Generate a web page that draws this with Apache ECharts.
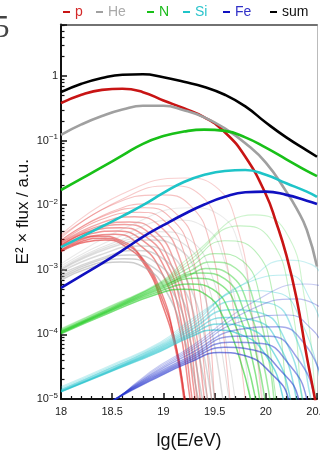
<!DOCTYPE html>
<html>
<head>
<meta charset="utf-8">
<script src="https://cdn.jsdelivr.net/npm/echarts@6/dist/echarts.min.js"></script>
<style>
  html, body { margin: 0; padding: 0; background: #fff; }
  #chart { width: 320px; height: 451px; }
</style>
</head>
<body>
<div id="chart"></div>
<script>
// Energy axis (lg(E/eV)) and flux axis decades
const xMin = 18, xMax = 20.5, xStep = 0.5;
const yDecades = [-5, -4, -3, -2, -1, 0];
const yTopLg = 0.797;

// Best-fit spectra, [lg(E/eV), lg(E^2 flux)]
const sumLg = [[18.0,-0.25],[18.2,-0.12],[18.4,-0.03],[18.6,0.02],[18.8,0.026],[19.0,-0.02],[19.2,-0.09],[19.4,-0.17],[19.6,-0.29],[19.8,-0.47],[20.0,-0.72],[20.2,-0.95],[20.4,-1.15],[20.5,-1.25]];
const pLg = [[18.0,-0.42],[18.2,-0.29],[18.4,-0.215],[18.6,-0.197],[18.8,-0.25],[19.0,-0.38],[19.2,-0.50],[19.4,-0.64],[19.6,-0.87],[19.8,-1.25],[20.0,-1.83],[20.1,-2.26],[20.2,-2.77],[20.3,-3.44],[20.4,-4.34],[20.48,-5.0],[20.5,-5.2]];
const heLg = [[18.0,-0.91],[18.2,-0.75],[18.4,-0.62],[18.6,-0.52],[18.8,-0.46],[19.0,-0.46],[19.2,-0.53],[19.4,-0.64],[19.6,-0.81],[19.8,-1.04],[20.0,-1.34],[20.2,-1.79],[20.3,-2.05],[20.4,-2.38],[20.5,-2.95]];
const nLg = [[18.0,-1.765],[18.2,-1.59],[18.4,-1.41],[18.6,-1.23],[18.8,-1.05],[19.0,-0.93],[19.2,-0.86],[19.4,-0.83],[19.6,-0.85],[19.8,-0.95],[20.0,-1.11],[20.2,-1.29],[20.4,-1.47],[20.5,-1.55]];
const siLg = [[18.0,-2.65],[18.2,-2.49],[18.4,-2.33],[18.6,-2.17],[18.8,-2.0],[19.0,-1.81],[19.2,-1.64],[19.4,-1.53],[19.6,-1.47],[19.8,-1.455],[20.0,-1.53],[20.2,-1.66],[20.4,-1.79],[20.5,-1.87]];
const feLg = [[18.0,-3.28],[18.2,-3.09],[18.4,-2.90],[18.6,-2.70],[18.8,-2.49],[19.0,-2.31],[19.2,-2.14],[19.4,-1.99],[19.6,-1.87],[19.8,-1.80],[20.0,-1.79],[20.2,-1.84],[20.4,-1.93],[20.5,-1.98]];

// Spread of alternative fits per element, from lowest to highest cutoff
const pBundleLg = [
  [[18.00,-2.72],[18.24,-2.57],[18.43,-2.54],[18.62,-2.63],[18.82,-2.93],[18.99,-3.54],[19.12,-4.24],[19.20,-5.0],[19.22,-5.3]],
  [[18.00,-2.70],[18.22,-2.55],[18.40,-2.51],[18.60,-2.58],[18.80,-2.85],[18.98,-3.42],[19.12,-4.15],[19.21,-5.0],[19.23,-5.3]],
  [[18.00,-2.69],[18.19,-2.54],[18.38,-2.48],[18.58,-2.54],[18.77,-2.77],[18.97,-3.31],[19.11,-4.09],[19.21,-5.0],[19.23,-5.3]],
  [[18.00,-2.66],[18.28,-2.48],[18.53,-2.45],[18.77,-2.62],[18.97,-3.00],[19.14,-3.78],[19.26,-5.0],[19.28,-5.3]],
  [[18.00,-2.65],[18.30,-2.44],[18.55,-2.40],[18.80,-2.55],[19.00,-2.93],[19.16,-3.70],[19.28,-5.0],[19.30,-5.3]],
  [[18.00,-2.63],[18.28,-2.41],[18.58,-2.35],[18.82,-2.48],[19.02,-2.85],[19.18,-3.62],[19.31,-5.0],[19.33,-5.3]],
  [[18.00,-2.62],[18.33,-2.37],[18.62,-2.30],[18.87,-2.44],[19.06,-2.86],[19.22,-3.70],[19.33,-5.0],[19.35,-5.3]],
  [[18.00,-2.60],[18.38,-2.32],[18.67,-2.26],[18.92,-2.41],[19.11,-2.88],[19.26,-3.78],[19.36,-5.0],[19.38,-5.3]],
  [[18.00,-2.58],[18.40,-2.27],[18.72,-2.18],[18.97,-2.33],[19.16,-2.82],[19.30,-3.78],[19.40,-5.0],[19.42,-5.3]],
  [[18.00,-2.57],[18.38,-2.23],[18.77,-2.11],[19.02,-2.26],[19.21,-2.77],[19.34,-3.78],[19.43,-5.0],[19.45,-5.3]],
  [[18.00,-2.55],[18.43,-2.16],[18.82,-2.04],[19.06,-2.18],[19.26,-2.70],[19.39,-3.78],[19.47,-5.0],[19.49,-5.3]],
  [[18.00,-2.54],[18.48,-2.11],[18.87,-1.98],[19.11,-2.11],[19.31,-2.62],[19.44,-3.78],[19.50,-5.0],[19.52,-5.3]],
  [[18.00,-2.51],[18.48,-2.01],[18.97,-1.84],[19.26,-2.00],[19.46,-2.62],[19.57,-3.78],[19.65,-5.0],[19.67,-5.3]],
  [[18.00,-2.48],[18.58,-1.92],[19.06,-1.70],[19.36,-1.84],[19.55,-2.46],[19.70,-3.78],[19.80,-5.0],[19.82,-5.3]],
  [[18.00,-2.46],[18.58,-1.84],[19.21,-1.58],[19.50,-1.70],[19.73,-2.38],[19.87,-3.78],[19.96,-5.0],[19.98,-5.3]]
];
const heBundleLg = [
  [[18.00,-3.16],[18.28,-2.97],[18.58,-2.88],[18.82,-2.97],[19.02,-3.31],[19.21,-4.09],[19.34,-5.0],[19.36,-5.3]],
  [[18.00,-3.13],[18.33,-2.91],[18.62,-2.83],[18.87,-2.93],[19.08,-3.31],[19.26,-4.09],[19.38,-5.0],[19.40,-5.3]],
  [[18.00,-3.10],[18.38,-2.85],[18.67,-2.77],[18.92,-2.88],[19.14,-3.31],[19.31,-4.09],[19.43,-5.0],[19.45,-5.3]],
  [[18.00,-3.06],[18.43,-2.80],[18.72,-2.70],[18.97,-2.80],[19.19,-3.25],[19.36,-4.09],[19.47,-5.0],[19.49,-5.3]],
  [[18.00,-3.03],[18.38,-2.77],[18.77,-2.63],[19.02,-2.72],[19.24,-3.19],[19.41,-4.09],[19.50,-5.0],[19.52,-5.3]],
  [[18.00,-3.00],[18.48,-2.66],[18.87,-2.54],[19.14,-2.66],[19.34,-3.13],[19.48,-4.01],[19.58,-5.0],[19.60,-5.3]],
  [[18.00,-2.99],[18.48,-2.63],[18.92,-2.48],[19.20,-2.60],[19.40,-3.08],[19.54,-4.01],[19.64,-5.0],[19.66,-5.3]],
  [[18.00,-2.97],[18.48,-2.60],[18.97,-2.41],[19.26,-2.54],[19.46,-3.03],[19.60,-4.01],[19.70,-5.0],[19.72,-5.3]],
  [[18.00,-2.94],[18.58,-2.48],[19.11,-2.23],[19.41,-2.35],[19.60,-2.88],[19.75,-3.93],[19.85,-5.0],[19.87,-5.3]],
  [[18.00,-2.91],[18.67,-2.32],[19.26,-2.04],[19.55,-2.15],[19.75,-2.69],[19.89,-3.93],[19.97,-5.0],[19.99,-5.3]]
];
const nBundleLg = [
  [[18.00,-3.99],[18.48,-3.66],[18.97,-3.36],[19.20,-3.30],[19.41,-3.38],[19.60,-3.78],[19.75,-4.40],[19.85,-5.0],[19.87,-5.3]],
  [[18.00,-3.98],[18.48,-3.64],[18.97,-3.33],[19.26,-3.22],[19.48,-3.30],[19.68,-3.78],[19.81,-4.40],[19.90,-5.0],[19.92,-5.3]],
  [[18.00,-3.97],[18.48,-3.63],[18.97,-3.30],[19.31,-3.13],[19.55,-3.22],[19.75,-3.74],[19.87,-4.40],[19.94,-5.0],[19.96,-5.3]],
  [[18.00,-3.96],[18.48,-3.62],[18.97,-3.28],[19.36,-3.05],[19.60,-3.14],[19.80,-3.70],[19.92,-4.40],[19.99,-5.0],[20.01,-5.3]],
  [[18.00,-3.955],[18.48,-3.61],[18.97,-3.26],[19.26,-3.08],[19.41,-2.98],[19.65,-3.08],[19.85,-3.66],[19.97,-4.40],[20.04,-5.0],[20.06,-5.3]],
  [[18.00,-3.95],[18.48,-3.60],[18.97,-3.24],[19.26,-3.02],[19.46,-2.88],[19.71,-2.98],[19.91,-3.62],[20.03,-4.40],[20.08,-5.0],[20.10,-5.3]],
  [[18.00,-3.94],[18.48,-3.59],[18.97,-3.22],[19.26,-2.96],[19.50,-2.75],[19.77,-2.86],[19.96,-3.55],[20.10,-5.0],[20.12,-5.3]],
  [[18.00,-3.93],[18.48,-3.58],[18.97,-3.21],[19.26,-2.90],[19.60,-2.55],[19.89,-2.70],[20.09,-3.55],[20.21,-5.0],[20.23,-5.3]],
  [[18.00,-3.92],[18.48,-3.57],[18.97,-3.20],[19.26,-2.85],[19.75,-2.32],[20.04,-2.52],[20.24,-3.45],[20.35,-5.0],[20.37,-5.3]],
  [[18.00,-3.91],[18.48,-3.56],[18.97,-3.19],[19.26,-2.80],[19.89,-2.15],[20.19,-2.40],[20.38,-3.45],[20.49,-5.0],[20.51,-5.3]]
];
const siBundleLg = [
  [[18.00,-4.89],[18.48,-4.58],[18.97,-4.26],[19.26,-4.04],[19.50,-3.93],[19.75,-4.00],[19.99,-4.30],[20.17,-5.0],[20.19,-5.3]],
  [[18.00,-4.885],[18.48,-4.57],[18.97,-4.24],[19.26,-4.01],[19.55,-3.84],[19.82,-3.90],[20.06,-4.24],[20.24,-5.0],[20.26,-5.3]],
  [[18.00,-4.88],[18.48,-4.56],[18.97,-4.22],[19.26,-3.98],[19.60,-3.74],[19.90,-3.79],[20.13,-4.16],[20.30,-5.0],[20.32,-5.3]],
  [[18.00,-4.87],[18.48,-4.55],[18.97,-4.20],[19.26,-3.94],[19.65,-3.62],[19.95,-3.67],[20.19,-4.09],[20.36,-5.0],[20.38,-5.3]],
  [[18.00,-4.86],[18.48,-4.53],[18.97,-4.18],[19.26,-3.90],[19.72,-3.48],[20.04,-3.52],[20.28,-4.00],[20.44,-5.0],[20.46,-5.3]],
  [[18.00,-4.85],[18.48,-4.52],[18.97,-4.16],[19.26,-3.86],[19.80,-3.32],[20.12,-3.36],[20.36,-3.85],[20.53,-4.70]],
  [[18.00,-4.83],[18.48,-4.50],[18.97,-4.14],[19.26,-3.82],[19.85,-3.18],[20.22,-3.08],[20.45,-3.50],[20.55,-3.90]],
  [[18.00,-4.81],[18.48,-4.48],[18.97,-4.12],[19.26,-3.78],[19.80,-3.20],[20.20,-2.85],[20.45,-2.92],[20.55,-3.10]]
];
const feBundleLg = [
  [[18.43,-5.09],[18.87,-4.72],[19.26,-4.43],[19.55,-4.28],[19.80,-4.33],[20.05,-4.60],[20.22,-5.0],[20.24,-5.3]],
  [[18.44,-5.09],[18.87,-4.70],[19.26,-4.40],[19.60,-4.20],[19.88,-4.24],[20.14,-4.55],[20.32,-5.0],[20.34,-5.3]],
  [[18.45,-5.08],[18.87,-4.68],[19.26,-4.37],[19.65,-4.12],[19.96,-4.14],[20.22,-4.45],[20.40,-5.0],[20.42,-5.3]],
  [[18.46,-5.08],[18.87,-4.66],[19.26,-4.34],[19.70,-4.03],[20.04,-4.03],[20.30,-4.35],[20.48,-5.0],[20.50,-5.3]],
  [[18.47,-5.08],[18.87,-4.64],[19.26,-4.30],[19.75,-3.92],[20.12,-3.88],[20.38,-4.15],[20.55,-4.70]],
  [[18.48,-5.08],[18.87,-4.62],[19.26,-4.26],[19.80,-3.78],[20.22,-3.70],[20.45,-3.92],[20.55,-4.15]],
  [[18.49,-5.08],[18.87,-4.60],[19.26,-4.23],[19.85,-3.62],[20.30,-3.45],[20.55,-3.60]],
  [[18.50,-5.08],[18.87,-4.58],[19.26,-4.20],[19.90,-3.48],[20.38,-3.22],[20.55,-3.25]]
];

const FONT = '"Liberation Sans", Arial, sans-serif';
const colors = { p: '#c81414', He: '#a0a0a0', N: '#18c018', Si: '#1ec4c8', Fe: '#1010c0', sum: '#000000' };
const legendText = { p: '#d42a2a', He: '#aaaaaa', N: '#1cbc1c', Si: '#2cc4cc', Fe: '#3030c8', sum: '#111111' };
const legendLeft = { p: 63, He: 96, N: 147, Si: 183, Fe: 223, sum: 270 };

const toFlux = arr => arr.map(([x, lg]) => [x, Math.pow(10, lg)]);

// minor tick values on the flux axis (2..9 per decade)
const yMinor = [];
for (let d = -5; d <= 0; d++) for (let m = 2; m <= 9; m++) yMinor.push(m * Math.pow(10, d));

// low-cutoff fits are drawn stronger, high-cutoff fits fade out
function bundle(name, curves, color, hi, lo) {
  const n = curves.length;
  return curves.map((c, i) => ({
    name: name, type: 'line', data: toFlux(c), smooth: 0.5, showSymbol: false, silent: true,
    lineStyle: { color: color, width: i < n * 0.6 ? 1.5 : 1.1, opacity: hi - (hi - lo) * i / (n - 1) },
    z: 2
  }));
}
function main(name, data) {
  return {
    name: name, type: 'line', data: toFlux(data), smooth: 0.5, showSymbol: false, silent: true,
    itemStyle: { color: colors[name] }, lineStyle: { color: colors[name], width: 2.6 }, z: 5
  };
}

const series = [].concat(
  bundle('p band', pBundleLg, '#e02424', 0.6, 0.22),
  bundle('He band', heBundleLg, '#a4a4a4', 0.55, 0.22),
  bundle('N band', nBundleLg, '#22cc22', 0.6, 0.22),
  bundle('Si band', siBundleLg, '#22c2cc', 0.6, 0.25),
  bundle('Fe band', feBundleLg, '#2030cc', 0.6, 0.25),
  [main('p', pLg), main('He', heLg), main('N', nLg), main('Si', siLg), main('Fe', feLg), main('sum', sumLg)]
);

const legends = Object.keys(legendLeft).map(k => ({
  left: legendLeft[k], top: 5, padding: 0, icon: 'rect', itemWidth: 7, itemHeight: 2,
  selectedMode: false,
  data: [{ name: k, textStyle: { color: legendText[k] } }],
  textStyle: { fontSize: 14, fontFamily: FONT }
}));

const supLabel = v => {
  const l = Math.log10(v), e = Math.round(l);
  if (Math.abs(l - e) > 1e-6) return '';
  if (e === 0) return '{b|1}';
  return '{b|10}{s|\u2212' + (-e) + '}';
};

const yRange = { min: Math.pow(10, yDecades[0]), max: Math.pow(10, yTopLg) };

const chart = echarts.init(document.getElementById('chart'), null, { renderer: 'canvas' });
chart.setOption({
  animation: false,
  backgroundColor: '#fff',
  legend: legends,
  grid: { left: 61, right: 3, top: 24.5, bottom: 52, containLabel: false, outerBoundsMode: 'none' },
  graphic: [{
    type: 'text', left: -6, top: 13,
    style: { text: '5', font: '31px "Liberation Serif", "DejaVu Serif", serif', fill: '#444' }
  }],
  xAxis: [{
    type: 'value', min: xMin, max: xMax, interval: xStep, position: 'bottom',
    name: 'lg(E/eV)', nameLocation: 'middle', nameGap: 33, nameMoveOverlap: false,
    nameTextStyle: { fontSize: 18, fontFamily: FONT, color: '#111' },
    axisLine: { show: true, onZero: false, lineStyle: { color: '#111', width: 2 } },
    axisTick: { show: true, inside: true, length: 6, lineStyle: { color: '#111', width: 1.5 } },
    minorTick: { show: true, splitNumber: 5, length: 3, lineStyle: { color: '#111', width: 1.2 } },
    axisLabel: { fontSize: 11, fontFamily: FONT, color: '#222', margin: 7 },
    splitLine: { show: false }, minorSplitLine: { show: false }
  }, {
    type: 'value', min: xMin, max: xMax, position: 'top',
    axisLine: { show: true, onZero: false, lineStyle: { color: '#444', width: 1.5 } },
    axisTick: { show: false }, axisLabel: { show: false }, splitLine: { show: false }
  }],
  yAxis: [{
    type: 'log', logBase: 10, min: yRange.min, max: yRange.max, interval: 1, position: 'left',
    name: 'E\u00b2 \u00d7 flux / a.u.', nameLocation: 'middle', nameGap: 29, nameMoveOverlap: false,
    nameTextStyle: { fontSize: 17, fontFamily: FONT, color: '#111' },
    axisLine: { show: true, onZero: false, lineStyle: { color: '#111', width: 2 } },
    axisTick: { show: true, inside: true, length: 6, lineStyle: { color: '#111', width: 1.5 } },
    axisLabel: {
      margin: 3, formatter: supLabel,
      rich: {
        b: { fontSize: 11, fontFamily: FONT, color: '#222', lineHeight: 15 },
        s: { fontSize: 8, fontFamily: FONT, color: '#222', verticalAlign: 'top' }
      }
    },
    splitLine: { show: false }
  }, {
    type: 'log', logBase: 10, min: yRange.min, max: yRange.max, position: 'left',
    axisLine: { show: false },
    axisTick: { show: true, inside: true, length: 3.5, customValues: yMinor, lineStyle: { color: '#111', width: 1.2 } },
    axisLabel: { show: false }, splitLine: { show: false }
  }, {
    type: 'log', logBase: 10, min: yRange.min, max: yRange.max, position: 'right',
    axisLine: { show: true, onZero: false, lineStyle: { color: '#bbb', width: 1 } },
    axisTick: { show: false }, axisLabel: { show: false }, splitLine: { show: false }
  }],
  series: series
});
</script>
</body>
</html>
